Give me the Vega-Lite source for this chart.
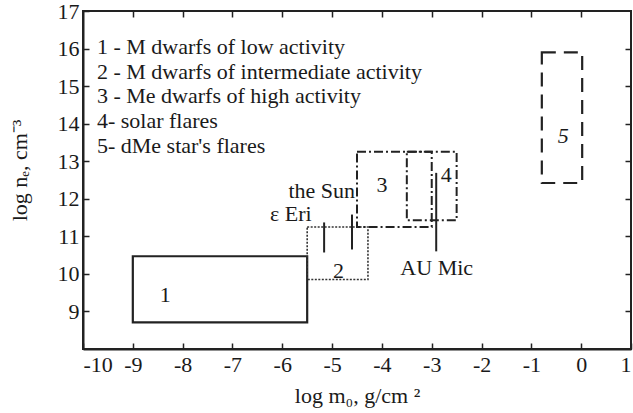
{
  "$schema": "https://vega.github.io/schema/vega-lite/v6.json",
  "width": 548,
  "height": 338,
  "autosize": {"type": "none"},
  "padding": {"left": 83, "top": 11, "right": 2, "bottom": 64},
  "background": "white",
  "config": {
    "font": "Liberation Serif",
    "view": {"stroke": "#222", "strokeWidth": 2},
    "text": {"font": "Liberation Serif", "fontSize": 22, "color": "#1a1a1a"},
    "axis": {
      "grid": false,
      "domainColor": "#222",
      "domainWidth": 2,
      "tickColor": "#222",
      "tickWidth": 1.5,
      "tickSize": -6,
      "labelFont": "Liberation Serif",
      "labelFontSize": 22,
      "labelColor": "#1a1a1a",
      "titleFont": "Liberation Serif",
      "titleFontSize": 22,
      "titleFontWeight": "normal",
      "titleColor": "#1a1a1a"
    }
  },
  "datasets": {
    "boxes": [
      {"box": "1", "x0": -9.0, "x1": -5.5, "y0": 8.71, "y1": 10.47},
      {"box": "2", "x0": -5.5, "x1": -4.28, "y0": 9.85, "y1": 11.25},
      {"box": "3", "x0": -4.5, "x1": -3.0, "y0": 11.25, "y1": 13.25},
      {"box": "4", "x0": -3.5, "x1": -2.5, "y0": 11.43, "y1": 13.25},
      {"box": "5", "x0": -0.79, "x1": 0.02, "y0": 12.42, "y1": 15.9}
    ],
    "stars": [
      {"star": "ε Eri", "x": -5.16, "y0": 10.57, "y1": 11.37},
      {"star": "the Sun", "x": -4.6, "y0": 10.65, "y1": 11.58},
      {"star": "AU Mic", "x": -2.91, "y0": 10.6, "y1": 12.69}
    ],
    "boxLabels": [
      {"label": "1", "x": -8.35, "y": 9.45},
      {"label": "2", "x": -4.87, "y": 10.07},
      {"label": "3", "x": -4.0, "y": 12.37},
      {"label": "4", "x": -2.71, "y": 12.64}
    ],
    "starLabels": [
      {"label": "the Sun", "x": -4.54, "y": 12.02},
      {"label": "ε Eri", "x": -5.41, "y": 11.4},
      {"label": "AU Mic", "x": -2.9, "y": 9.98}
    ],
    "key": [
      {"line": "1 - M dwarfs of low activity", "x": -9.72, "y": 15.86},
      {"line": "2 - M dwarfs of intermediate activity", "x": -9.72, "y": 15.2},
      {"line": "3 - Me dwarfs of high activity", "x": -9.72, "y": 14.55},
      {"line": "4- solar flares", "x": -9.72, "y": 13.88},
      {"line": "5- dMe star's flares", "x": -9.72, "y": 13.22}
    ]
  },
  "resolve": {"axis": {"x": "independent", "y": "independent"}},
  "layer": [
    {
      "data": {"name": "boxes"},
      "transform": [{"filter": "datum.box == '1'"}],
      "mark": {"type": "rect", "filled": false, "stroke": "#222", "strokeWidth": 2.2},
      "encoding": {
        "x": {
          "field": "x0", "type": "quantitative",
          "scale": {"domain": [-10, 1], "nice": false, "zero": false},
          "axis": {
            "values": [-10, -9, -8, -7, -6, -5, -4, -3, -2, -1, 0, 1],
            "labelExpr": "'' + datum.value",
            "labelPadding": 11,
            "title": "log m₀, g/cm ²",
            "titlePadding": 10
          }
        },
        "x2": {"field": "x1"},
        "y": {
          "field": "y0", "type": "quantitative",
          "scale": {"domain": [8, 17], "nice": false, "zero": false},
          "axis": {
            "values": [9, 10, 11, 12, 13, 14, 15, 16, 17],
            "labelExpr": "'' + datum.value",
            "labelPadding": 10,
            "title": "log nₑ, cm⁻³",
            "titlePadding": 26,
            "titleY": 159
          }
        },
        "y2": {"field": "y1"}
      }
    },
    {
      "data": {"name": "boxes"},
      "transform": [{"filter": "datum.box == '2'"}],
      "mark": {"type": "rect", "filled": false, "stroke": "#333", "strokeWidth": 1.6, "strokeDash": [2, 1.5]},
      "encoding": {
        "x": {"field": "x0", "type": "quantitative", "axis": null},
        "x2": {"field": "x1"},
        "y": {"field": "y0", "type": "quantitative", "axis": null},
        "y2": {"field": "y1"}
      }
    },
    {
      "data": {"name": "boxes"},
      "transform": [{"filter": "datum.box == '3' || datum.box == '4'"}],
      "mark": {"type": "rect", "filled": false, "stroke": "#222", "strokeWidth": 2, "strokeDash": [9, 3, 2, 3]},
      "encoding": {
        "x": {"field": "x0", "type": "quantitative", "axis": null},
        "x2": {"field": "x1"},
        "y": {"field": "y0", "type": "quantitative", "axis": null},
        "y2": {"field": "y1"}
      }
    },
    {
      "data": {"name": "boxes"},
      "transform": [{"filter": "datum.box == '5'"}],
      "mark": {"type": "rect", "filled": false, "stroke": "#222", "strokeWidth": 2.2, "strokeDash": [14, 8]},
      "encoding": {
        "x": {"field": "x0", "type": "quantitative", "axis": null},
        "x2": {"field": "x1"},
        "y": {"field": "y0", "type": "quantitative", "axis": null},
        "y2": {"field": "y1"}
      }
    },
    {
      "data": {"name": "boxes"},
      "mark": {"type": "point", "opacity": 0},
      "encoding": {
        "x": {
          "field": "x0", "type": "quantitative",
          "axis": {
            "orient": "top",
            "values": [-9, -8, -7, -6, -5, -4, -3, -2, -1, 0],
            "labels": false, "domain": false, "title": null
          }
        },
        "y": {
          "field": "y0", "type": "quantitative",
          "axis": {
            "orient": "right",
            "values": [9, 10, 11, 12, 13, 14, 15, 16],
            "labels": false, "domain": false, "title": null
          }
        }
      }
    },
    {
      "data": {"name": "stars"},
      "mark": {"type": "rule", "stroke": "#222", "strokeWidth": 2},
      "encoding": {
        "x": {"field": "x", "type": "quantitative", "axis": null},
        "y": {"field": "y0", "type": "quantitative", "axis": null},
        "y2": {"field": "y1"}
      }
    },
    {
      "data": {"name": "boxLabels"},
      "mark": {"type": "text", "align": "center", "baseline": "middle"},
      "encoding": {
        "x": {"field": "x", "type": "quantitative", "axis": null},
        "y": {"field": "y", "type": "quantitative", "axis": null},
        "text": {"field": "label"}
      }
    },
    {
      "data": {"values": [{"label": "5", "x": -0.36, "y": 13.66}]},
      "mark": {"type": "text", "fontStyle": "italic", "align": "center", "baseline": "middle"},
      "encoding": {
        "x": {"field": "x", "type": "quantitative", "axis": null},
        "y": {"field": "y", "type": "quantitative", "axis": null},
        "text": {"field": "label"}
      }
    },
    {
      "data": {"name": "starLabels"},
      "transform": [{"filter": "datum.label != 'AU Mic'"}],
      "mark": {"type": "text", "align": "right", "baseline": "alphabetic"},
      "encoding": {
        "x": {"field": "x", "type": "quantitative", "axis": null},
        "y": {"field": "y", "type": "quantitative", "axis": null},
        "text": {"field": "label"}
      }
    },
    {
      "data": {"name": "starLabels"},
      "transform": [{"filter": "datum.label == 'AU Mic'"}],
      "mark": {"type": "text", "align": "center", "baseline": "alphabetic"},
      "encoding": {
        "x": {"field": "x", "type": "quantitative", "axis": null},
        "y": {"field": "y", "type": "quantitative", "axis": null},
        "text": {"field": "label"}
      }
    },
    {
      "data": {"name": "key"},
      "mark": {"type": "text", "align": "left", "baseline": "alphabetic"},
      "encoding": {
        "x": {"field": "x", "type": "quantitative", "axis": null},
        "y": {"field": "y", "type": "quantitative", "axis": null},
        "text": {"field": "line"}
      }
    }
  ]
}
